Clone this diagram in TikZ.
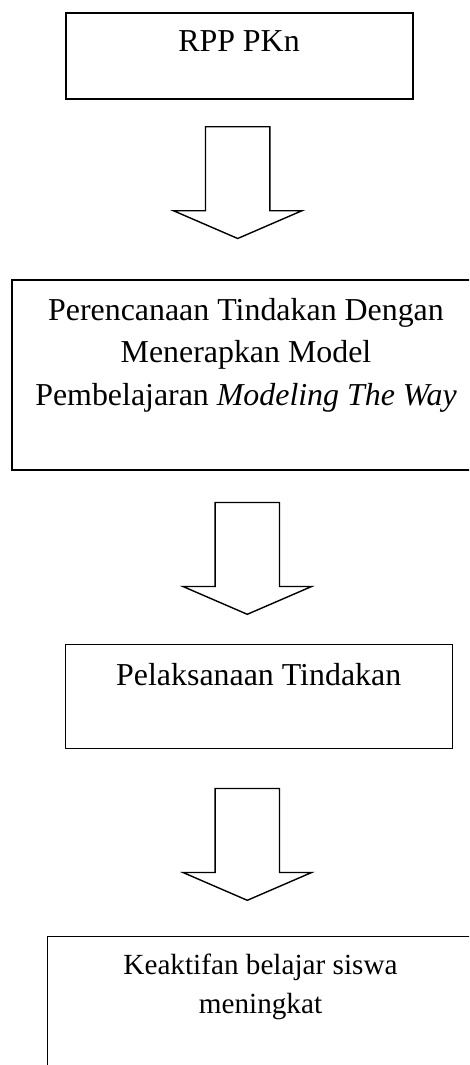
\documentclass[tikz,border=0pt]{standalone}
\usepackage{fontspec}
\setmainfont{Liberation Serif}
\begin{document}
\begin{tikzpicture}[x=1pt,y=-1pt,
  box/.style={draw, line width=1.4pt, rectangle, inner sep=0pt},
  txt/.style={inner sep=0pt, anchor=base, align=center},
  big/.style={font=\fontsize{31.9}{42.5}\selectfont},
  small/.style={font=\fontsize{29.2}{39.3}\selectfont},
  blockarrow/.pic={\draw[line width=1.4pt, line join=miter] (-32.2,0) -- (-32.2,84) -- (-64.3,84) -- (0,111.8) -- (64.3,84) -- (32.2,84) -- (32.2,0) -- cycle;}
]
\useasboundingbox (0,0) rectangle (469,1065);
\clip (0,0) rectangle (469,1065);
% boxes
\node[box, minimum width=347pt, minimum height=86pt] (b1) at (239.5,56) {};
\node[box, minimum width=468pt, minimum height=190pt] (b2) at (246,375) {};
\node[box, minimum width=387pt, minimum height=104pt] (b3) at (259.2,696.7) {};
\node[box, minimum width=426pt, minimum height=160pt] (b4) at (260.3,1016.3) {};
% texts (base anchor = baseline of last line)
\node[txt, big] (t1) at (239,52) {RPP PKn};
\node[txt, big] (t2) at (246,405) {Perencanaan Tindakan Dengan\\Menerapkan Model\\Pembelajaran \textit{Modeling The Way}};
\node[txt, big] (t3) at (258.7,685.7) {Pelaksanaan Tindakan};
\node[txt, small] (t4) at (260.5,1013.3) {Keaktifan belajar siswa\\meningkat};
% block arrows
\pic at (237.7,126.7) {blockarrow};
\pic at (247.3,502.5) {blockarrow};
\pic at (247.3,788.5) {blockarrow};
\end{tikzpicture}
\end{document}
